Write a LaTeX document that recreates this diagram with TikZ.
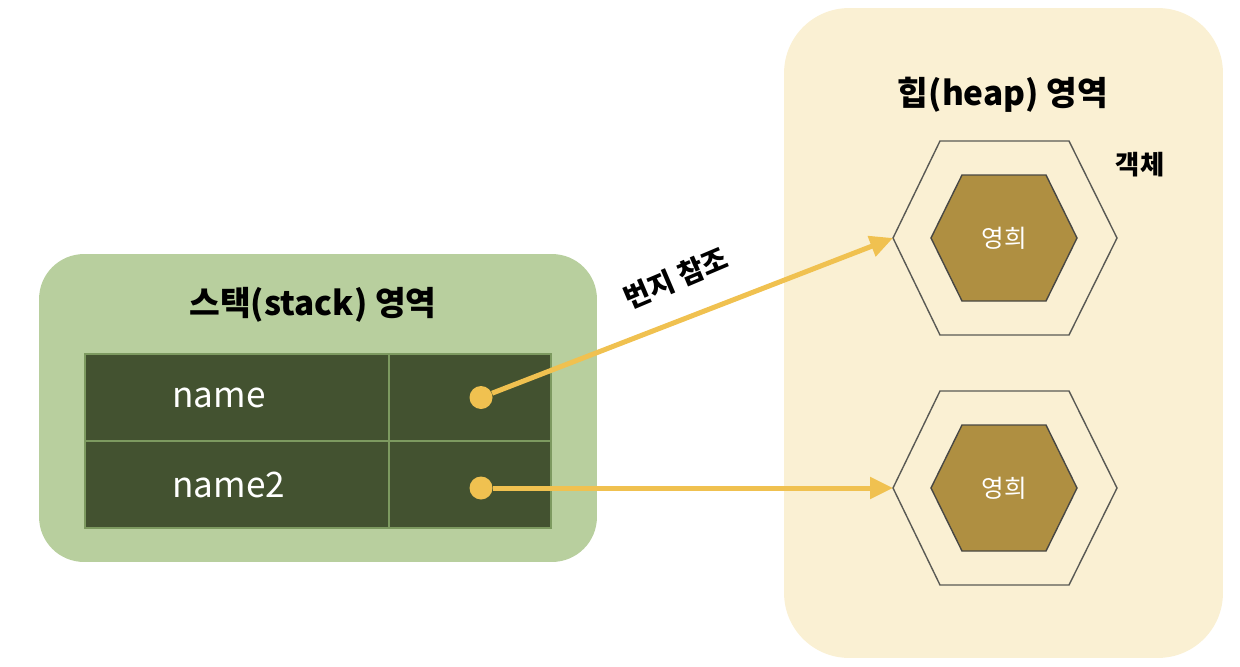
\documentclass[tikz,border=0pt]{standalone}
\usepackage{fontspec}
\setmainfont{Noto Sans CJK KR}
\usetikzlibrary{shapes,arrows.meta,positioning}

\definecolor{stackgreen}{HTML}{B8CF9E}
\definecolor{tablegreen}{HTML}{435230}
\definecolor{cellline}{HTML}{7D9A60}
\definecolor{heapyellow}{HTML}{FAF0D3}
\definecolor{hexgold}{HTML}{AF8F41}
\definecolor{hexline}{HTML}{5A5A55}
\definecolor{refyellow}{HTML}{F0C150}

\begin{document}
\begin{tikzpicture}[x=0.02cm,y=-0.02cm,
  area/.style={inner sep=0pt},
  title/.style={font=\fontsize{19}{23}\selectfont\bfseries,inner sep=0pt},
  cell/.style={draw=cellline,fill=tablegreen,line width=0.7pt,minimum height=1.74cm,inner sep=0pt,outer sep=0pt},
  varname/.style={text=white,font=\fontsize{20}{24}\selectfont,inner sep=0pt},
  dot/.style={circle,fill=refyellow,minimum size=0.46cm,inner sep=0pt},
  ref/.style={draw=refyellow,line width=0.1cm,-{Triangle[length=0.46cm,width=0.42cm]}},
  objbox/.style={draw=hexline,line width=0.8pt},
  obj/.style={fill=hexgold,draw=hexline!80!black,line width=0.8pt},
  objtext/.style={text=white,font=\fontsize{14}{17}\selectfont,inner sep=0pt}]
\useasboundingbox (0,0) rectangle (1240,666);

% stack side
\node[area,fill=stackgreen,rounded corners=0.9cm,minimum width=11.16cm,minimum height=6.16cm] (stack) at (318,408) {};
\node[title] (stacktitle) at (313,305) {스택(stack) 영역};
\node[cell,minimum width=6.08cm] (namekey) at (237,397.5) {};
\node[cell,minimum width=3.24cm,right=0pt of namekey] (nameval) {};
\node[cell,minimum width=6.08cm,below=0pt of namekey] (name2key) {};
\node[cell,minimum width=3.24cm,right=0pt of name2key] (name2val) {};
\node[varname,right=1.74cm of namekey.west] (namelabel) {name};
\node[varname,right=1.74cm of name2key.west] (name2label) {name2};
\node[dot] (ptr1) at (481,397.5) {};
\node[dot] (ptr2) at (481,488) {};

% heap side
\node[area,fill=heapyellow,rounded corners=1.3cm,minimum width=8.78cm,minimum height=13cm] (heap) at (1003.5,333) {};
\node[title] (heaptitle) at (1003,95) {힙(heap) 영역};
\node[font=\fontsize{15}{18}\selectfont\bfseries,inner sep=0pt] (objlabel) at (1140,165) {객체};
\foreach \cy/\n in {238/1,488/2}{
  \draw[objbox] (893,\cy) -- (940,\cy-97) -- (1069,\cy-97) -- (1117,\cy) -- (1069,\cy+97) -- (940,\cy+97) -- cycle; % object
  \draw[obj] (931,\cy) -- (962,\cy-63) -- (1046,\cy-63) -- (1077,\cy) -- (1046,\cy+63) -- (962,\cy+63) -- cycle;     % value
  \node[objtext] (value\n) at (1004,\cy) {영희};
  \coordinate (obj\n) at (893,\cy);
}

% references
\draw[ref] (ptr1) -- (obj1);
\draw[ref] (ptr2) -- (obj2);
\node[font=\fontsize{16}{19}\selectfont\bfseries,inner sep=0pt,rotate=23] (reflabel) at (676,278) {번지 참조};
\end{tikzpicture}
\end{document}
